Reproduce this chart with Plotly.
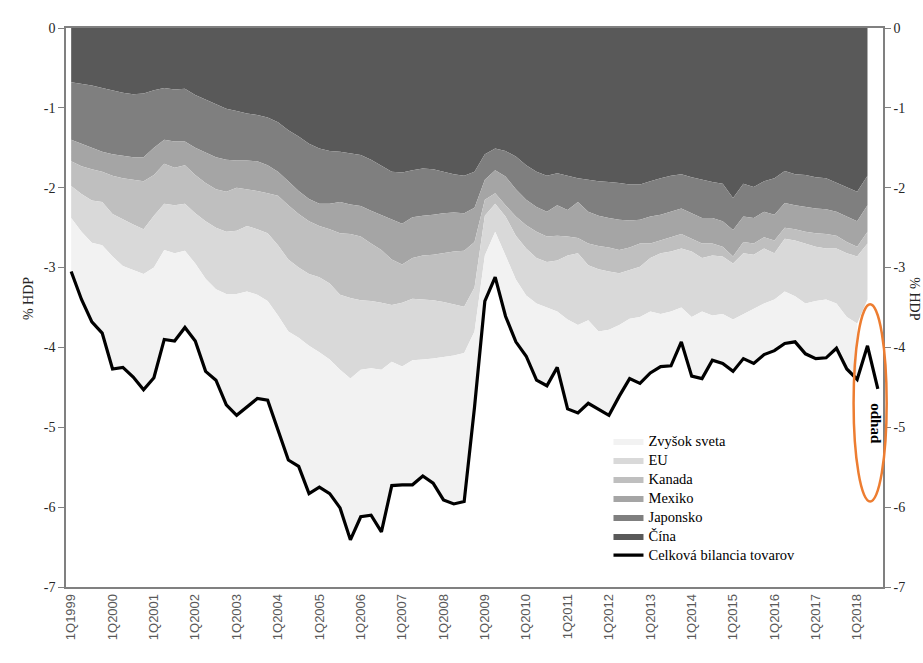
import plotly.graph_objects as go
import numpy as np

quarters = [f"{q}Q{y}" for y in range(1999, 2019) for q in range(1, 5)][:79]
year_ticks = [f"1Q{y}" for y in range(1999, 2019)]

cina = [-0.68, -0.70, -0.72, -0.75, -0.78, -0.81, -0.83, -0.82, -0.78, -0.75,
        -0.77, -0.76, -0.84, -0.90, -0.96, -1.01, -1.04, -1.07, -1.09, -1.12,
        -1.18, -1.28, -1.36, -1.45, -1.51, -1.54, -1.55, -1.57, -1.59, -1.65,
        -1.72, -1.80, -1.81, -1.78, -1.76, -1.77, -1.80, -1.83, -1.85, -1.80,
        -1.58, -1.51, -1.54, -1.61, -1.72, -1.80, -1.85, -1.82, -1.85, -1.88,
        -1.90, -1.92, -1.93, -1.94, -1.96, -1.96, -1.92, -1.88, -1.85, -1.83,
        -1.87, -1.90, -1.93, -1.95, -2.13, -1.95, -1.99, -1.92, -1.88, -1.79,
        -1.83, -1.84, -1.87, -1.88, -1.94, -2.00, -2.05, -1.85]
japonsko = [-0.72, -0.75, -0.79, -0.80, -0.80, -0.79, -0.79, -0.80, -0.72, -0.65,
            -0.65, -0.66, -0.66, -0.66, -0.66, -0.64, -0.62, -0.59, -0.58, -0.60,
            -0.62, -0.64, -0.68, -0.69, -0.69, -0.66, -0.63, -0.64, -0.64, -0.64,
            -0.62, -0.60, -0.64, -0.59, -0.59, -0.57, -0.52, -0.48, -0.47, -0.45,
            -0.32, -0.27, -0.32, -0.41, -0.43, -0.44, -0.45, -0.40, -0.43, -0.30,
            -0.40, -0.43, -0.45, -0.46, -0.45, -0.44, -0.44, -0.46, -0.45, -0.43,
            -0.45, -0.48, -0.45, -0.47, -0.40, -0.41, -0.39, -0.38, -0.46, -0.40,
            -0.39, -0.40, -0.39, -0.39, -0.36, -0.36, -0.37, -0.37]
mexiko = [-0.27, -0.28, -0.26, -0.25, -0.27, -0.28, -0.28, -0.30, -0.34, -0.30,
          -0.33, -0.30, -0.34, -0.38, -0.40, -0.40, -0.34, -0.36, -0.37, -0.35,
          -0.30, -0.30, -0.29, -0.28, -0.28, -0.32, -0.39, -0.37, -0.38, -0.41,
          -0.44, -0.50, -0.51, -0.51, -0.50, -0.50, -0.50, -0.49, -0.47, -0.43,
          -0.25, -0.29, -0.36, -0.34, -0.32, -0.31, -0.31, -0.38, -0.33, -0.45,
          -0.40, -0.38, -0.37, -0.38, -0.34, -0.30, -0.34, -0.32, -0.32, -0.32,
          -0.32, -0.32, -0.32, -0.32, -0.33, -0.32, -0.32, -0.32, -0.32, -0.31,
          -0.30, -0.31, -0.31, -0.31, -0.30, -0.32, -0.32, -0.33]
kanada = [-0.31, -0.35, -0.39, -0.38, -0.48, -0.52, -0.56, -0.60, -0.51, -0.50,
          -0.47, -0.48, -0.48, -0.48, -0.48, -0.50, -0.54, -0.46, -0.48, -0.50,
          -0.62, -0.68, -0.67, -0.66, -0.64, -0.68, -0.77, -0.80, -0.80, -0.72,
          -0.66, -0.57, -0.48, -0.51, -0.55, -0.57, -0.61, -0.66, -0.70, -0.57,
          -0.20, -0.13, -0.14, -0.24, -0.29, -0.33, -0.32, -0.31, -0.24, -0.19,
          -0.27, -0.29, -0.30, -0.29, -0.28, -0.29, -0.18, -0.16, -0.18, -0.18,
          -0.16, -0.18, -0.15, -0.12, -0.09, -0.14, -0.14, -0.14, -0.16, -0.14,
          -0.14, -0.15, -0.17, -0.18, -0.16, -0.14, -0.12, -0.15]
eu = [-0.40, -0.47, -0.53, -0.54, -0.53, -0.58, -0.57, -0.56, -0.65, -0.58,
      -0.60, -0.59, -0.63, -0.72, -0.77, -0.78, -0.79, -0.82, -0.82, -0.85,
      -0.88, -0.90, -0.88, -0.90, -0.94, -0.95, -0.94, -1.01, -0.87, -0.84,
      -0.84, -0.71, -0.80, -0.77, -0.75, -0.73, -0.69, -0.64, -0.58, -0.55,
      -0.50, -0.35, -0.49, -0.55, -0.59, -0.57, -0.57, -0.64, -0.80, -0.90,
      -0.69, -0.78, -0.73, -0.65, -0.61, -0.63, -0.67, -0.76, -0.75, -0.74,
      -0.82, -0.67, -0.75, -0.72, -0.70, -0.76, -0.68, -0.69, -0.58, -0.66,
      -0.70, -0.75, -0.68, -0.64, -0.69, -0.80, -0.84, -0.70]
zvysok = [-0.67, -0.85, -0.99, -1.10, -1.41, -1.27, -1.34, -1.45, -1.38, -1.12,
          -1.10, -0.96, -0.97, -1.16, -1.14, -1.39, -1.52, -1.44, -1.30, -1.24,
          -1.43, -1.61, -1.61, -1.85, -1.69, -1.68, -1.73, -2.02, -1.84, -1.84,
          -2.03, -1.55, -1.48, -1.56, -1.46, -1.56, -1.79, -1.86, -1.86, -0.95,
          -0.57, -0.57, -0.76, -0.78, -0.76, -0.96, -0.98, -0.70, -1.12, -1.10,
          -1.04, -0.97, -1.07, -0.89, -0.75, -0.83, -0.77, -0.66, -0.68, -0.43,
          -0.74, -0.84, -0.56, -0.62, -0.65, -0.56, -0.68, -0.64, -0.64, -0.65,
          -0.57, -0.63, -0.72, -0.73, -0.56, -0.65, -0.70]
celkova = [-3.05, -3.40, -3.68, -3.82, -4.27, -4.25, -4.37, -4.53, -4.38, -3.90,
           -3.92, -3.75, -3.92, -4.30, -4.41, -4.72, -4.85, -4.74, -4.64, -4.66,
           -5.03, -5.41, -5.49, -5.83, -5.75, -5.83, -6.01, -6.41, -6.12, -6.10,
           -6.31, -5.73, -5.72, -5.72, -5.61, -5.70, -5.91, -5.96, -5.93, -4.75,
           -3.42, -3.12, -3.61, -3.93, -4.11, -4.41, -4.48, -4.25, -4.77, -4.82,
           -4.70, -4.77, -4.85, -4.61, -4.39, -4.45, -4.32, -4.24, -4.23, -3.93,
           -4.36, -4.39, -4.16, -4.20, -4.30, -4.14, -4.20, -4.09, -4.04, -3.95,
           -3.93, -4.08, -4.14, -4.13, -4.01, -4.27, -4.40, -3.98, -4.52]

series = [
    ("Čína", cina, "#595959", 6),
    ("Japonsko", japonsko, "#7f7f7f", 5),
    ("Mexiko", mexiko, "#a5a5a5", 4),
    ("Kanada", kanada, "#bfbfbf", 3),
    ("EU", eu, "#d9d9d9", 2),
    ("Zvyšok sveta", zvysok, "#f2f2f2", 1),
]


def legend_label(text):
    return f"<span style='font-size:14.5px'>{text}</span>"


fig = go.Figure()
cum = np.zeros(len(cina))
for k, (name, vals, col, rank) in enumerate(series):
    v = np.array(vals, dtype=float)
    n = len(v)
    base = cum[:n]
    if n < len(cum):
        fig.add_trace(go.Scatter(x=quarters[:n], y=base, mode="lines",
                                 line=dict(width=0, color=col), showlegend=False,
                                 hoverinfo="skip"))
    top = base + v
    fig.add_trace(go.Scatter(
        x=quarters[:n], y=top, name=legend_label(name), mode="lines",
        line=dict(width=0, color=col),
        fill="tozeroy" if k == 0 else "tonexty", fillcolor=col,
        legendrank=rank))
    cum = top

fig.add_trace(go.Scatter(x=quarters, y=celkova,
                         name=legend_label("Celková bilancia tovarov"),
                         mode="lines", line=dict(color="black", width=3.2),
                         yaxis="y2", legendrank=7))

yt = [0, -1, -2, -3, -4, -5, -6, -7]
ytext = ["0", "-1", "-2", "-3", "-4", "-5", "-6", "-7"]
axis_y = dict(range=[-7, 0], tickmode="array", tickvals=yt, ticktext=ytext,
              ticks="outside", ticklen=6, tickcolor="#808080", showgrid=False,
              zeroline=False, showline=True, linecolor="#808080", linewidth=1.5,
              tickfont=dict(family="Liberation Serif", size=14, color="#262626"))

fig.update_layout(
    width=923, height=663,
    margin=dict(l=66, r=40, t=28, b=76),
    paper_bgcolor="white", plot_bgcolor="white",
    font=dict(family="Liberation Serif", color="#262626"),
    xaxis=dict(type="category", categoryorder="array", categoryarray=quarters,
               range=[-0.5, 78.5], tickmode="array", tickvals=year_ticks,
               ticktext=year_ticks, tickangle=-90, ticks="",
               tickfont=dict(family="Liberation Sans", size=13, color="#595959"),
               showline=True, mirror=True, linecolor="#808080", linewidth=1.5,
               showgrid=False, zeroline=False),
    yaxis=dict(**axis_y, side="left"),
    yaxis2=dict(**axis_y, side="right", overlaying="y", anchor="x"),
    legend=dict(x=0.664, y=0.287, xanchor="left", yanchor="top",
                traceorder="normal",
                bgcolor="rgba(0,0,0,0)", tracegroupgap=0,
                font=dict(family="Liberation Serif", size=11.5, color="black")),
    shapes=[dict(type="circle", xref="paper", yref="y", x0=0.964, x1=1.0045,
                 y0=-5.93, y1=-3.46, line=dict(color="#ED7D31", width=2.5))],
    annotations=[
        dict(text="% HDP", xref="paper", yref="paper", x=-0.0465, y=0.515,
             xanchor="center", yanchor="middle",
             textangle=-90, showarrow=False,
             font=dict(family="Liberation Serif", size=14, color="#262626")),
        dict(text="% HDP", xref="paper", yref="paper", x=1.039, y=0.515,
             xanchor="center", yanchor="middle",
             textangle=90, showarrow=False,
             font=dict(family="Liberation Serif", size=14, color="#262626")),
        dict(text="<b>odhad</b>", xref="paper", yref="y", x=0.9915, y=-4.95,
             xanchor="center", yanchor="middle",
             textangle=90, showarrow=False,
             font=dict(family="Liberation Serif", size=15, color="black")),
    ],
)

fig.write_html("out.html", config={"displayModeBar": False},
               post_script="document.body.style.margin='0px';")
